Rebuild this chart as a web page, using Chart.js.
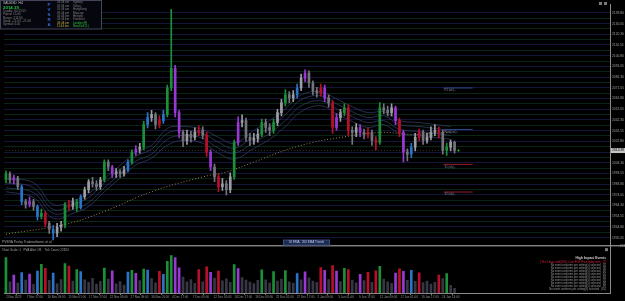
<!DOCTYPE html>
<html>
<head>
<meta charset="utf-8">
<script src="https://cdn.jsdelivr.net/npm/chart.js@4.4.1/dist/chart.umd.min.js"></script>
<style>
  html, body { margin: 0; padding: 0; background: #000; }
  canvas { display: block; }
</style>
</head>
<body>
<canvas id="chart" width="625" height="301"></canvas>
<script>
// XAUUSD H4 candles (one candle per ~4px)
const opens = [
  1988.0, 1993.1, 1987.7, 1989.5, 1981.4, 1967.9, 1965.2, 1967.9, 1963.4, 1954.4,
  1957.1, 1948.1, 1942.7, 1939.1, 1944.5, 1946.3, 1965.2, 1963.4, 1967.9, 1962.5,
  1972.4, 1978.7, 1985.9, 1984.1, 1981.4, 1987.7, 2003.9, 1999.4, 1993.1, 1994.9,
  1993.1, 1996.7, 2003.9, 2012.9, 2015.6, 2017.4, 2038.1, 2044.4, 2047.1, 2038.1,
  2041.7, 2047.1, 2071.4, 2089.4, 2048.9, 2030.9, 2023.7, 2029.1, 2026.4, 2030.9,
  2032.7, 2028.2, 2012.9, 1999.4, 1990.4, 1981.4, 1984.1, 1978.7, 1990.4, 2021.9,
  2039.9, 2041.7, 2026.4, 2023.7, 2025.5, 2029.1, 2039.9, 2035.4, 2032.7, 2039.9,
  2048.9, 2057.9, 2065.1, 2062.4, 2065.1, 2071.4, 2080.4, 2084.9, 2075.9, 2068.7,
  2066.9, 2071.4, 2062.4, 2057.9, 2035.4, 2044.4, 2048.9, 2053.4, 2032.7, 2030.9,
  2035.4, 2030.9, 2029.1, 2030.9, 2023.7, 2021.9, 2053.4, 2051.0, 2049.0, 2053.4,
  2041.7, 2030.9, 2012.9, 2011.1, 2017.4, 2026.4, 2030.9, 2023.7, 2026.4, 2030.9,
  2032.7, 2030.9, 2014.7, 2017.4, 2021.9
];
const highs = [
  1996, 1995, 1992, 1991, 1983, 1970, 1972, 1970, 1965, 1961,
  1959, 1950, 1946, 1948, 1950, 1967, 1969, 1971, 1970, 1974,
  1981, 1988, 1990, 1987, 1990, 2006, 2006, 2001, 1998, 1997,
  2000, 2006, 2015, 2019, 2021, 2041, 2049, 2051, 2049, 2046,
  2051, 2074, 2143, 2092, 2051, 2033, 2033, 2032, 2035, 2037,
  2036, 2031, 2015, 2002, 1993, 1989, 1987, 1994, 2024, 2045,
  2047, 2044, 2030, 2030, 2034, 2043, 2043, 2039, 2043, 2052,
  2061, 2070, 2068, 2069, 2075, 2084, 2088, 2087, 2078, 2072,
  2075, 2074, 2065, 2060, 2048, 2052, 2057, 2056, 2036, 2039,
  2038, 2034, 2035, 2033, 2027, 2058, 2057, 2055, 2057, 2055,
  2044, 2033, 2016, 2021, 2030, 2034, 2033, 2030, 2036, 2038,
  2036, 2033, 2021, 2024, 2023
];
const lows = [
  1985, 1985, 1984, 1979, 1965, 1962, 1963, 1960, 1951, 1952,
  1945, 1939, 1933, 1936, 1941, 1944, 1960, 1961, 1959, 1961,
  1970, 1976, 1981, 1978, 1979, 1986, 1996, 1990, 1990, 1990,
  1991, 1995, 2002, 2010, 2012, 2015, 2035, 2041, 2034, 2035,
  2039, 2045, 2069, 2045, 2026, 2018, 2020, 2022, 2024, 2028,
  2025, 2009, 1996, 1986, 1977, 1978, 1974, 1976, 1988, 2019,
  2036, 2023, 2019, 2020, 2022, 2027, 2031, 2028, 2030, 2037,
  2046, 2055, 2058, 2059, 2062, 2069, 2077, 2072, 2065, 2063,
  2064, 2059, 2054, 2030, 2033, 2041, 2046, 2028, 2020, 2027,
  2027, 2025, 2026, 2019, 2015, 2020, 2048, 2046, 2046, 2038,
  2027, 2004, 2005, 2008, 2014, 2023, 2020, 2021, 2024, 2028,
  2026, 2011, 2010, 2014, 2012
];
const closes = [
  1993.1, 1987.7, 1989.5, 1981.4, 1967.9, 1965.2, 1967.9, 1963.4, 1954.4, 1957.1,
  1948.1, 1942.7, 1939.1, 1944.5, 1946.3, 1965.2, 1963.4, 1967.9, 1962.5, 1972.4,
  1978.7, 1985.9, 1984.1, 1981.4, 1987.7, 2003.9, 1999.4, 1993.1, 1994.9, 1993.1,
  1996.7, 2003.9, 2012.9, 2015.6, 2017.4, 2038.1, 2044.4, 2047.1, 2038.1, 2041.7,
  2047.1, 2071.4, 2089.4, 2048.9, 2030.9, 2023.7, 2029.1, 2026.4, 2030.9, 2032.7,
  2028.2, 2012.9, 1999.4, 1990.4, 1981.4, 1984.1, 1978.7, 1990.4, 2021.9, 2039.9,
  2041.7, 2026.4, 2023.7, 2025.5, 2029.1, 2039.9, 2035.4, 2032.7, 2039.9, 2048.9,
  2057.9, 2065.1, 2062.4, 2065.1, 2071.4, 2080.4, 2084.9, 2075.9, 2068.7, 2066.9,
  2071.4, 2062.4, 2057.9, 2035.4, 2044.4, 2048.9, 2053.4, 2032.7, 2030.9, 2035.4,
  2030.9, 2029.1, 2030.9, 2023.7, 2021.9, 2053.4, 2051.0, 2049.0, 2053.4, 2041.7,
  2030.9, 2012.9, 2011.1, 2017.4, 2026.4, 2030.9, 2023.7, 2026.4, 2030.9, 2032.7,
  2030.9, 2014.7, 2017.4, 2021.9, 2014.4
];
// PVSRA colour class per candle: n normal, g green climax, r red climax, b blue, p violet
const kinds = (
  "gnpnbnpnbg" + "rnbnngrngb" + "nnnnngnpnn" + "nbgpngbnnr" + "bggppnnnnr" +
  "nrpnrnnngp" + "nnnnngnngn" + "ngnnbnpnnn" + "rpnrpngrnn" + "pnrnrgnnnp" +
  "rpnbnrnnnn" + "rngnn"
).split("");
const volumes = [
  19500, 6200, 9800, 5400, 11200, 7100, 10400, 4800, 12000, 15800,
  13600, 6900, 10900, 5200, 7400, 16200, 14800, 6600, 12900, 11800,
  7300, 5800, 8100, 4900, 6400, 13700, 7600, 12200, 5100, 6300,
  4400, 11500, 12400, 10800, 6800, 13200, 12600, 7900, 5600, 11900,
  10200, 17400, 20600, 19400, 13800, 8700, 6200, 7400, 5300, 12800,
  6100, 14400, 11300, 8200, 12100, 6700, 7800, 5900, 15600, 13400,
  8400, 7100, 6000, 5200, 6900, 12700, 7300, 5500, 11800, 6600,
  7700, 12300, 6200, 5400, 10700, 7200, 11600, 8300, 6500, 5800,
  13900, 12500, 7400, 15100, 12000, 6300, 13600, 12900, 7100, 5600,
  10300, 6800, 11400, 5900, 12200, 14700, 7600, 6100, 5300, 11000,
  13300, 11900, 7000, 12400, 6400, 11100, 5700, 6600, 4900, 5800,
  9800, 7900, 10600, 4200, 2600
];

// moving average envelope, sampled at candle indexes
const bandIdx = [0, 7, 12, 17, 21, 25, 30, 33, 37, 41, 45, 50, 54, 58, 63, 67, 71, 75, 80, 84, 88, 92, 96, 100, 105, 109, 113];
const bandA = [1988.6, 1985.0, 1965.2, 1968.8, 1975.1, 1988.6, 2003.9, 2012.9, 2019.2, 2034.5, 2036.3, 2033.6, 2026.4, 2021.0, 2032.7, 2041.7, 2052.5, 2065.1, 2067.8, 2061.5, 2054.3, 2048.9, 2049.8, 2041.7, 2039.9, 2038.1, 2036.3];
const bandB = [1985.0, 1980.5, 1960.7, 1965.2, 1971.5, 1985.0, 2000.3, 2009.3, 2015.6, 2030.0, 2032.7, 2030.0, 2021.9, 2016.5, 2027.3, 2035.4, 2047.1, 2060.6, 2064.2, 2057.0, 2049.8, 2044.4, 2046.2, 2038.1, 2036.3, 2034.5, 2032.7];
const bandC = [1980.5, 1976.0, 1957.1, 1960.7, 1967.0, 1980.5, 1995.8, 2004.8, 2011.1, 2024.6, 2028.2, 2025.5, 2016.5, 2012.0, 2021.9, 2030.0, 2041.7, 2055.2, 2059.7, 2052.5, 2045.3, 2039.9, 2041.7, 2033.6, 2031.8, 2030.0, 2028.2];
const bandD = [1976.9, 1971.5, 1952.6, 1957.1, 1963.4, 1976.9, 1992.2, 2001.2, 2007.5, 2019.2, 2023.7, 2021.0, 2012.0, 2006.6, 2016.5, 2024.6, 2036.3, 2049.8, 2055.2, 2048.0, 2040.8, 2035.4, 2038.1, 2030.0, 2028.2, 2026.4, 2024.6];
const ema200Idx = [0, 15, 25, 37, 50, 56, 63, 71, 78, 82, 95, 103, 113];
const ema200 = [1938.2, 1947.2, 1958.9, 1976.9, 1990.4, 1994.9, 2003.9, 2014.7, 2021.9, 2024.6, 2030.9, 2029.1, 2030.9];

const bidPrice = 2014.39;
const pivotLevels = [2071.4, 2033.6, 2001.8, 1976.6];
const pivotNames = ["R1 (wk) -", "Pivot (wk) -", "S1 (wk) -", "S2 (wk) -"];
const pivotColors = ["#2a4a86", "#2a4a86", "#9a1c30", "#9a1c30"];

const priceTicks = [
  2139.80, 2130.05, 2120.30, 2110.55, 2100.80, 2091.05, 2081.30, 2071.55, 2061.80, 2052.05, 2042.30,
  2032.55, 2022.80, 2013.05, 2003.30, 1993.55, 1983.80, 1974.05, 1964.30, 1954.55, 1944.80, 1935.05
];
const timeLabels = [
  "2 Nov 2023", "7 Nov 17:00", "10 Nov 09:00", "15 Nov 01:00", "17 Nov 17:00", "22 Nov 09:00",
  "27 Nov 09:00", "30 Nov 01:00", "4 Dec 17:00", "7 Dec 09:00", "12 Dec 01:00", "14 Dec 17:00",
  "19 Dec 09:00", "22 Dec 01:00", "27 Dec 17:00", "2 Jan 09:00", "5 Jan 01:00", "9 Jan 17:00",
  "12 Jan 09:00", "17 Jan 01:00", "19 Jan 17:00", "24 Jan 13:00"
];

const headerLines = ["XAUUSD  H4", "2014.39", "Candle: 00:15:55", "Pip/sd: 15.00", "Range: 214.90", "Swap: -22.03  -21.08", "Spread: 4.00"];
const pvsraLetters = ["P", "V", "S", "R", "A"];
const sessionTimes = ["03:44 am", "02:44 am", "01:44 am", "09:44 pm", "04:44 pm", "04:44 pm", "03:44 pm", "11:44 am"];
const sessionNames = ["Sydney", "Tokyo", "HongKong", "Moscow", "Helsinki", "Frankfurt", "London (E)", "NewYork (L)"];
const eventLines = [
  "(Thu 2 days until)USD: Core PCE Price Index m/m   (1)",
  "No event conforms per setting(s) selected   (2)",
  "No event conforms per setting(s) selected   (3)",
  "No event conforms per setting(s) selected   (4)",
  "No event conforms per setting(s) selected   (5)",
  "No event conforms per setting(s) selected   (6)",
  "No event conforms per setting(s) selected   (7)",
  "No event conforms per setting(s) selected   (8)",
  "No event conforms per setting(s) selected   (9)",
  "No event conforms per setting(s) selected   (10)"
];

const SLOTS = 154;          // candle slots across the plot incl. chart shift
const labelStep = 5.277;    // time label every 16 real H4 bars
const priceMax = 2147.9, priceMin = 1927.74;
const volMax = 26000, volLabel = "22851";
const FONT = "'Liberation Sans', Arial, sans-serif";

const kindColor = { g: "#1c9038", r: "#b8102a", b: "#2a74c8", p: "#9a38d4" };
function candleColor(i) {
  if (kinds[i] !== "n") return kindColor[kinds[i]];
  return closes[i] >= opens[i] ? "#9c9ca4" : "#74747e";
}
function volColor(i) {
  return kinds[i] === "n" ? "#363644" : kindColor[kinds[i]];
}

const idx = closes.map((c, i) => i);
const gridVals = [];
priceTicks.forEach((v, i) => {
  gridVals.push(v);
  if (i < priceTicks.length - 1) gridVals.push((v + priceTicks[i + 1]) / 2);
});

function lineSet(xs, ys, color, extra) {
  return Object.assign({
    type: "line",
    data: xs.map((x, i) => ({ x: x, y: ys[i] })),
    borderColor: color,
    borderWidth: 0.7,
    pointRadius: 0,
    tension: 0.4,
    yAxisID: "y",
    order: 5
  }, extra || {});
}

const datasets = [
  {
    type: "bar", label: "body",
    data: idx.map(i => ({ x: i, y: [opens[i], closes[i]] })),
    backgroundColor: idx.map(candleColor),
    barThickness: 2, minBarLength: 1, grouped: false, yAxisID: "y", order: 0
  },
  {
    type: "bar", label: "wick",
    data: idx.map(i => ({ x: i, y: [lows[i], highs[i]] })),
    backgroundColor: idx.map(candleColor),
    barThickness: 1, grouped: false, yAxisID: "y", order: 1
  },
  {
    type: "bar", label: "volume",
    data: idx.map(i => ({ x: i, y: volumes[i] })),
    backgroundColor: idx.map(volColor),
    barThickness: 2, grouped: false, yAxisID: "yv", order: 2
  },
  lineSet(bandIdx, bandA, "#36426e"),
  lineSet(bandIdx, bandB, "#36426e"),
  lineSet(bandIdx, bandC, "#36426e"),
  lineSet(bandIdx, bandD, "#36426e"),
  lineSet(ema200Idx, ema200, "#9a7e48", { borderDash: [1, 2], borderWidth: 1 }),
  lineSet([0, idx.length - 1], [bidPrice, bidPrice], "#4a4a4a", { borderDash: [1, 2], tension: 0 }),
  {
    type: "scatter", data: [{ x: idx.length, y: bidPrice }],
    pointRadius: 1, pointBackgroundColor: "#1ee01e", pointBorderWidth: 0, yAxisID: "y", order: 0
  }
];
pivotLevels.forEach((lv, i) => {
  datasets.push(lineSet([111.2, 118.6], [lv, lv], pivotColors[i], { tension: 0, borderWidth: 1 }));
});

function txt(ctx, s, x, y, color, size, align, bold) {
  ctx.font = (bold ? "bold " : "") + size + "px " + FONT;
  ctx.fillStyle = color;
  ctx.textAlign = align || "left";
  ctx.textBaseline = "middle";
  ctx.fillText(s, x, y);
}

const overlay = {
  id: "overlay",
  beforeDraw(chart) {
    const ctx = chart.ctx;
    ctx.save();
    ctx.fillStyle = "#000";
    ctx.fillRect(0, 0, chart.width, chart.height);
    ctx.restore();
  },
  afterDraw(chart) {
    const ctx = chart.ctx;
    const xs = chart.scales.x, ys = chart.scales.y;
    ctx.save();

    // header panel
    ctx.fillStyle = "#06060e";
    ctx.fillRect(0, 0, 102, 29);
    ctx.strokeStyle = "#44445a";
    ctx.lineWidth = 1;
    ctx.strokeRect(0.5, 0.5, 101, 28.5);
    headerLines.forEach((s, i) => {
      if (i === 0) txt(ctx, s, 3, 3.5, "#c8c8c8", 3.3);
      else if (i === 1) txt(ctx, s, 3, 7.4, "#22c83a", 4.4, "left", true);
      else txt(ctx, s, 3, 11 + (i - 2) * 3.4, "#808080", 3);
    });
    pvsraLetters.forEach((s, i) => txt(ctx, s, 49, 5 + i * 5, "#2f6fe0", 4.4, "center", true));
    sessionTimes.forEach((s, i) => {
      const live = i >= sessionTimes.length - 2;
      txt(ctx, s, 57, 2.6 + i * 3.4, live ? "#c8b838" : "#808080", 2.9);
      txt(ctx, sessionNames[i], 73, 2.6 + i * 3.4, live ? "#2cc83a" : "#808080", 2.9);
    });

    // chart window buttons
    ctx.fillStyle = "#7a7a7a";
    ctx.fillRect(599, 2, 3, 3);
    ctx.fillRect(604, 2, 3, 3);

    // pivot labels
    pivotLevels.forEach((lv, i) => {
      txt(ctx, pivotNames[i], xs.getPixelForValue(111.2) + 1, ys.getPixelForValue(lv) + 2.6, "#84849a", 2.7);
    });

    // bid box on the price axis
    const by = ys.getPixelForValue(bidPrice);
    ctx.fillStyle = "#c4c4c4";
    ctx.fillRect(611, by - 2.5, 14, 5);
    txt(ctx, bidPrice.toFixed(2), 612, by, "#000", 3.4);

    // window separator between price and volume panes
    ctx.fillStyle = "#9a9a9a";
    ctx.fillRect(0, ys.bottom - 0.5, 625, 1.2);
    txt(ctx, "PVSRA Pro by Traderathome, et al.", 2, ys.bottom - 3.5, "#a8a8a8", 3.2);
    ctx.fillStyle = "#1a2a52";
    ctx.fillRect(283, ys.bottom - 6, 47, 5.5);
    ctx.strokeStyle = "#3c4c78";
    ctx.strokeRect(283.5, ys.bottom - 5.5, 46, 5);
    txt(ctx, "50 EMA,  200 EMA Trends", 306.5, ys.bottom - 3.2, "#c0c8e4", 3, "center");
    txt(ctx, "Chart Scale: 1   PVA Alert Off,   Tick Count: 22824", 2, ys.bottom + 4.3, "#a0a0a0", 3);
    ctx.fillStyle = "#7a7a7a";
    ctx.fillRect(605, ys.bottom + 2.5, 3, 3);

    // high impact events panel
    txt(ctx, "High Impact Events", 606, ys.bottom + 12, "#d0d0d0", 3.3, "right", true);
    eventLines.forEach((s, i) => {
      txt(ctx, s, 606, ys.bottom + 17 + i * 3, i === 0 ? "#e0203a" : "#9a9a9a", 2.7, "right");
    });
    ctx.restore();
  }
};

new Chart(document.getElementById("chart"), {
  type: "bar",
  data: { datasets: datasets },
  plugins: [overlay],
  options: {
    responsive: false,
    animation: false,
    devicePixelRatio: 1,
    layout: { padding: 0 },
    plugins: { legend: { display: false }, tooltip: { enabled: false } },
    scales: {
      x: {
        type: "linear", position: "bottom",
        min: -0.5, max: SLOTS - 0.5, offset: false,
        grid: { display: true, drawOnChartArea: false, color: "#7a7a7a", tickLength: 2 },
        border: { display: true, color: "#8a8a8a" },
        ticks: {
          autoSkip: false, maxRotation: 0, align: "start", padding: 0,
          color: "#949494", font: { size: 3, family: FONT },
          callback: (v, i) => timeLabels[i]
        },
        afterBuildTicks: s => { s.ticks = timeLabels.map((t, k) => ({ value: k * labelStep })); },
        afterFit: s => { s.height = 8; }
      },
      y: {
        type: "linear", position: "right", stack: "panes", stackWeight: 245,
        min: priceMin, max: priceMax,
        grid: {
          drawTicks: false,
          color: c => (c.index % 2 === 0 ? "#15153a" : "#0a2612"),
          lineWidth: 1
        },
        border: { display: true, color: "#8a8a8a" },
        ticks: {
          autoSkip: false, padding: 2, color: "#a0a0a0", font: { size: 3.3, family: FONT },
          callback: (v, i) => (i % 2 === 0 ? v.toFixed(2) : "")
        },
        afterBuildTicks: s => { s.ticks = gridVals.map(v => ({ value: v })); },
        afterFit: s => { s.width = 15; }
      },
      yv: {
        type: "linear", position: "right", stack: "panes", stackWeight: 48,
        min: 0, max: volMax,
        grid: { display: false },
        border: { display: true, color: "#8a8a8a" },
        ticks: {
          autoSkip: false, padding: 2, color: "#a0a0a0", font: { size: 3.3, family: FONT },
          callback: () => volLabel
        },
        afterBuildTicks: s => { s.ticks = [{ value: volMax }]; },
        afterFit: s => { s.width = 15; }
      }
    }
  }
});
</script>
</body>
</html>
